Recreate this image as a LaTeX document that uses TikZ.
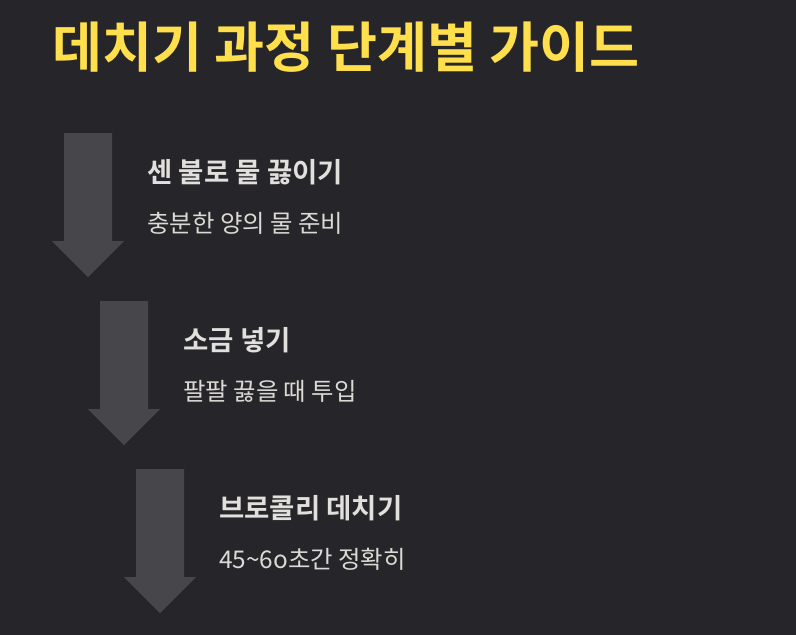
\documentclass[tikz,border=0pt]{standalone}
\usepackage{fontspec}
\setmainfont{Noto Sans CJK KR}
\newfontfamily\krbold{Noto Sans CJK KR Bold}
\definecolor{bgc}{HTML}{26252A}
\definecolor{arrc}{HTML}{47464B}
\definecolor{titc}{HTML}{FFDF4C}
\definecolor{headc}{HTML}{E2E0DC}
\definecolor{subc}{HTML}{DCDAD4}
\begin{document}
\begin{tikzpicture}[x=1pt,y=-1pt,
  steparrow/.style={fill=arrc, draw=none},
  headtxt/.style={anchor=west, inner sep=0pt, text=headc, font=\krbold\fontsize{27.5}{32}\selectfont},
  subtxt/.style={anchor=west, inner sep=0pt, text=subc, font=\fontsize{24.4}{29}\selectfont},
  titletxt/.style={anchor=west, inner sep=0pt, text=titc, font=\krbold\fontsize{54.4}{64}\selectfont}]
\fill[bgc] (0,0) rectangle (796,635);
\useasboundingbox (0,0) rectangle (796,635);
\node[titletxt] (title) at (52,47) {데치기 과정 단계별 가이드};
\foreach \i/\h/\s in {0/센 불로 물 끓이기/충분한 양의 물 준비, 1/소금 넣기/팔팔 끓을 때 투입, 2/브로콜리 데치기/45\textasciitilde 6o초간 정확히}{
  \begin{scope}[shift={(36*\i,168*\i)}]
    \fill[steparrow] (64,133) -- (112,133) -- (112,241) -- (124,241) -- (88,277) -- (52,241) -- (64,241) -- cycle;
    \node[headtxt] (h\i) at (147,172) {\h};
    \node[subtxt] (s\i) at (147,223) {\s};
  \end{scope}
}
\end{tikzpicture}
\end{document}
